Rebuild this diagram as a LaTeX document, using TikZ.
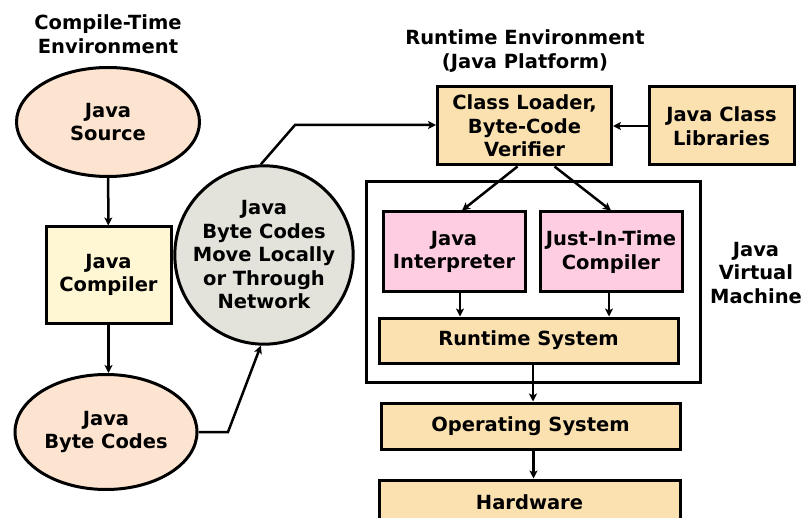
\documentclass[tikz,border=0pt]{standalone}
\usepackage{fontspec}
\setmainfont{DejaVu Sans}
\usetikzlibrary{shapes.geometric,arrows.meta,calc}
\definecolor{peach}{RGB}{253,228,208}
\definecolor{paleyel}{RGB}{255,246,212}
\definecolor{grayc}{RGB}{227,227,220}
\definecolor{tan}{RGB}{252,225,176}
\definecolor{pinkc}{RGB}{255,205,226}
\tikzset{
  lbl/.style={font=\fontsize{19.5}{23.5}\selectfont\bfseries, align=center, inner sep=0pt},
  box/.style={lbl, draw, line width=3pt, rectangle},
  ell/.style={lbl, draw, line width=3pt, ellipse, fill=peach},
  arr/.style={line width=2.5pt, -{Stealth[length=8pt,width=8pt,inset=2pt]}},
}
\begin{document}
\begin{tikzpicture}[x=1pt,y=-1pt]
\clip (0,0) rectangle (805,518);
\useasboundingbox (0,0) rectangle (805,518);
% titles
\node[lbl] (t1) at (108,34) {Compile-Time\\Environment};
\node[lbl] (t2) at (525,51) {Runtime Environment\\(Java Platform)};
\node[lbl] (t3) at (756,273) {Java\\Virtual\\Machine};
% compile-time
\node[ell, minimum width=183, minimum height=109] (src) at (108,122) {Java\\Source};
\node[box, fill=paleyel, minimum width=125, minimum height=96] (comp) at (108.5,275) {Java\\Compiler};
\node[ell, minimum width=182, minimum height=115] (bc) at (106,432) {Java\\Byte Codes};
\node[lbl, draw, line width=3pt, circle, fill=grayc, minimum size=168] (circ) at (264,255) {Java\\Byte Codes\\Move Locally\\or Through\\Network};
% runtime
\node[box, fill=tan, minimum width=174, minimum height=78] (cl) at (524.5,126) {Class Loader,\\Byte-Code\\Verifier};
\node[box, fill=tan, minimum width=145, minimum height=78] (lib) at (721.5,126) {Java Class\\Libraries};
\node[draw, line width=3pt, minimum width=334, minimum height=200, inner sep=0pt] (jvm) at (533,282) {};
\node[box, fill=pinkc, minimum width=142, minimum height=80] (interp) at (454,252) {Java\\Interpreter};
\node[box, fill=pinkc, minimum width=142, minimum height=80] (jit) at (611,252) {Just-In-Time\\Compiler};
\node[box, fill=tan, minimum width=299, minimum height=45] (rts) at (528.5,340.5) {Runtime System};
\node[box, fill=tan, minimum width=299, minimum height=46] (os) at (530.5,426) {Operating System};
\node[box, fill=tan, minimum width=301, minimum height=44] (hw) at (529.5,502) {Hardware};
% connectors
\coordinate (k1) at (228,432);
\coordinate (k2) at (295,125);
\draw[arr] (src) -- (comp);
\draw[arr] (comp.south) -- (comp.south |- bc.north);
\draw[arr] (bc.east |- k1) -- (k1) -- (circ.268);
\draw[arr] (circ.92) -- (k2) -- (k2 -| cl.west);
\draw[arr] (lib.west) -- (cl.east);
\draw[arr] ([xshift=-7pt]cl.south) -- ([xshift=8pt]interp.north);
\draw[arr] ([xshift=30pt]cl.south) -- (jit.north);
\draw[arr] ([xshift=6pt]interp.south) -- ([xshift=6pt]interp.south |- rts.north);
\draw[arr] ([xshift=-2pt]jit.south) -- ([xshift=-2pt]jit.south |- rts.north);
\draw[arr] ([xshift=4.5pt]rts.south) -- ([xshift=4.5pt]rts.south |- os.north);
\draw[arr] ([xshift=3pt]os.south) -- ([xshift=3pt]os.south |- hw.north);
\end{tikzpicture}
\end{document}
